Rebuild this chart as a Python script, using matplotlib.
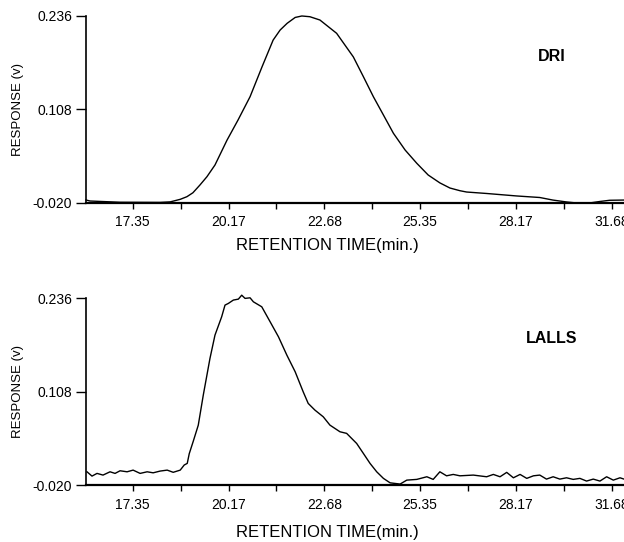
import numpy as np
import matplotlib
matplotlib.use("Agg")
import matplotlib.pyplot as plt
from matplotlib.ticker import FixedLocator

plt.rcParams['font.family'] = ['Liberation Sans', 'DejaVu Sans']

# retention time (min) and detector response (v)
dri_time = [15.95, 16.07, 16.97, 18.17, 18.47, 18.77, 18.97, 19.15, 19.36, 19.57,
            19.81, 20.17, 20.50, 20.86, 21.22, 21.55, 21.76, 21.97, 22.21, 22.41,
            22.65, 22.95, 23.45, 23.95, 24.25, 24.55, 24.85, 25.15, 25.50, 25.85,
            26.19, 26.54, 26.84, 27.14, 27.34, 27.94, 28.84, 29.53, 29.92, 30.33,
            30.63, 31.02, 31.32, 31.62, 32.05]
dri_resp = [-0.0159, -0.0173, -0.0190, -0.0192, -0.0185, -0.0150, -0.0114, -0.0060,
            0.0046, 0.0160, 0.0320, 0.0660, 0.0936, 0.1255, 0.1666, 0.2030, 0.2168,
            0.2260, 0.2340, 0.2360, 0.2350, 0.2305, 0.2123, 0.1800, 0.1530, 0.1255,
            0.1005, 0.0754, 0.0525, 0.0343, 0.0183, 0.0075, 0.0005, -0.0032, -0.0050,
            -0.0070, -0.0104, -0.0125, -0.0160, -0.0186, -0.0200, -0.0200, -0.0180,
            -0.0163, -0.0160]

lalls_time = [15.98, 16.13, 16.28, 16.46, 16.67, 16.82, 16.97, 17.18, 17.36, 17.57,
              17.78, 17.96, 18.17, 18.38, 18.56, 18.77, 18.89, 18.98, 19.04, 19.16,
              19.31, 19.46, 19.66, 19.81, 20.01, 20.11, 20.21, 20.36, 20.51, 20.61,
              20.71, 20.86, 20.96, 21.21, 21.46, 21.71, 21.96, 22.21, 22.45, 22.60,
              22.80, 23.05, 23.25, 23.55, 23.75, 24.05, 24.25, 24.45, 24.65, 24.85,
              25.05, 25.35, 25.55, 25.85, 26.15, 26.34, 26.54, 26.74, 26.94, 27.14,
              27.54, 27.94, 28.14, 28.34, 28.54, 28.74, 28.94, 29.14, 29.34, 29.53,
              29.73, 29.93, 30.13, 30.33, 30.53, 30.73, 30.93, 31.13, 31.33, 31.53,
              31.73, 31.93, 32.05]
lalls_resp = [-0.0018, -0.0077, -0.0040, -0.0063, -0.0018, -0.0040, -0.0004, -0.0018,
              0.0005, -0.0040, -0.0018, -0.0032, -0.0008, 0.0005, -0.0025, 0.0005,
              0.0075, 0.0097, 0.0230, 0.0400, 0.0620, 0.1032, 0.1534, 0.1853, 0.2104,
              0.2264, 0.2287, 0.2333, 0.2346, 0.2400, 0.2356, 0.2364, 0.2309, 0.2241,
              0.2036, 0.1830, 0.1580, 0.1351, 0.1077, 0.0918, 0.0827, 0.0735, 0.0621,
              0.0530, 0.0508, 0.0370, 0.0234, 0.0097, -0.0018, -0.0108, -0.0169,
              -0.0186, -0.0132, -0.0122, -0.0086, -0.0122, -0.0018, -0.0073, -0.0054,
              -0.0073, -0.0063, -0.0086, -0.0054, -0.0086, -0.0026, -0.0100, -0.0054,
              -0.0108, -0.0073, -0.0063, -0.0118, -0.0086, -0.0118, -0.0100, -0.0122,
              -0.0108, -0.0145, -0.0118, -0.0145, -0.0086, -0.0132, -0.0100, -0.0118]

x_labels = ["17.35", "20.17", "22.68", "25.35", "28.17", "31.68"]
y_ticks = [-0.020, 0.108, 0.236]
panels = [("DRI", dri_time, dri_resp), ("LALLS", lalls_time, lalls_resp)]

# labelled ticks sit evenly spaced on the plotter's axis
x_major = np.linspace(17.35, 31.68, len(x_labels))
x_minor = (x_major[:-1] + x_major[1:]) / 2

fig = plt.figure(figsize=(6.24, 5.42), dpi=100)
boxes = [[0.1378, 0.6255, 0.8622, 0.345], [0.1378, 0.105, 0.8622, 0.345]]
label_y = [-0.185, -0.215]

for box, (name, t, r), ly in zip(boxes, panels, label_y):
    ax = fig.add_axes(box)
    ax.plot(t, r, color="black", lw=1.0, clip_on=False)
    ax.set_xlim(15.95, 32.05)
    ax.set_ylim(-0.020, 0.236)

    ax.spines['top'].set_visible(False)
    ax.spines['right'].set_visible(False)
    ax.spines['left'].set_linewidth(1.2)
    ax.spines['bottom'].set_linewidth(1.6)

    ax.xaxis.set_major_locator(FixedLocator(x_major))
    ax.xaxis.set_minor_locator(FixedLocator(x_minor))
    ax.set_xticklabels(x_labels)
    ax.set_yticks(y_ticks)
    ax.set_yticklabels(["-0.020", "0.108", "0.236"])
    ax.tick_params(axis='x', which='both', direction='out', length=4, width=1, pad=5,
                   labelsize=10)
    ax.tick_params(axis='y', direction='out', length=7, width=1, pad=3, labelsize=10)

    ax.set_xlabel("RETENTION TIME(min.)", fontsize=12)
    ax.xaxis.set_label_coords(0.448, ly)
    ax.set_ylabel("RESPONSE (v)", fontsize=9.5)
    ax.yaxis.set_label_coords(-0.115, 0.5)

    ax.text(0.865, 0.785, name, transform=ax.transAxes, ha="center", va="center",
            fontsize=11.5, fontweight="bold")

plt.savefig("out.png", dpi=100)
plt.close('all')
